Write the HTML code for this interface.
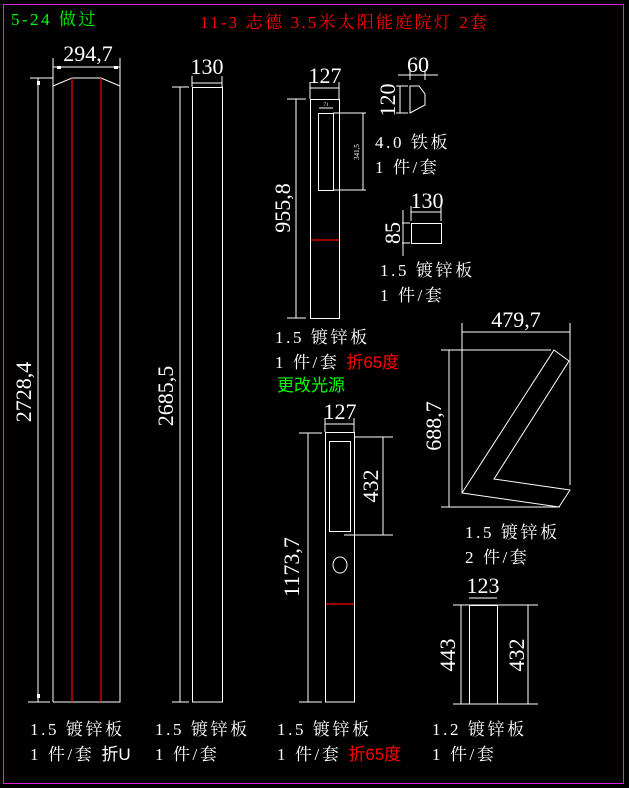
<!DOCTYPE html>
<html><head><meta charset="utf-8"><style>
html,body{margin:0;padding:0;background:#000;}
svg{display:block}
.w{stroke:#fff;stroke-width:1;fill:none}
.r{stroke:#f00;stroke-width:1.2;fill:none}
text{font-family:"Liberation Serif","Noto Serif CJK SC","Noto Sans CJK SC",serif;fill:#fff}
.d{font-size:22px}
.l{font-size:17px;letter-spacing:2.6px}
.s{font-family:"Liberation Sans","Noto Sans CJK SC",sans-serif;letter-spacing:0}
</style></head><body>
<svg width="629" height="788" viewBox="0 0 629 788" xmlns="http://www.w3.org/2000/svg">
<rect x="3.5" y="4.5" width="620" height="779" fill="none" stroke="#e020e0" stroke-width="1"/>
<text x="11" y="25" style="font-size:17px;fill:#0f0;letter-spacing:2.5px">5-24 做过</text>
<text x="200" y="28" style="font-size:17px;fill:#f00;letter-spacing:2.2px">11-3 志德 3.5米太阳能庭院灯 2套</text>

<!-- Part 1 -->
<polyline class="w" points="53,702 53,86 72,78 101,78 120,86 120,702 53,702"/>
<line class="r" x1="72" y1="78" x2="72" y2="702"/>
<line class="r" x1="101" y1="78" x2="101" y2="702"/>
<line class="w" x1="53" y1="67" x2="120" y2="67"/>
<line class="w" x1="53" y1="58" x2="53" y2="86"/>
<line class="w" x1="120" y1="58" x2="120" y2="86"/>
<rect x="57" y="66" width="4" height="3" fill="#fff"/><rect x="114" y="66" width="4" height="3" fill="#fff"/>
<text x="88" y="61" class="d" text-anchor="middle">294,7</text>
<line class="w" x1="30" y1="78" x2="53" y2="78"/>
<line class="w" x1="28" y1="702" x2="50" y2="702"/>
<line class="w" x1="38" y1="78" x2="38" y2="702"/>
<rect x="37" y="81" width="3" height="4" fill="#fff"/><rect x="37" y="694" width="3" height="4" fill="#fff"/>
<text class="d" transform="translate(31,392) rotate(-90)" text-anchor="middle">2728,4</text>

<!-- Part 2 -->
<rect class="w" x="192.5" y="87.5" width="30" height="614.5"/>
<line class="w" x1="192" y1="83" x2="222" y2="83"/>
<line class="w" x1="192" y1="76" x2="192" y2="87"/><line class="w" x1="222" y1="76" x2="222" y2="87"/>
<text x="207" y="74" class="d" text-anchor="middle">130</text>
<line class="w" x1="172" y1="87" x2="189" y2="87"/>
<line class="w" x1="180" y1="87" x2="180" y2="702"/>
<line class="w" x1="172" y1="702" x2="189" y2="702"/>
<text class="d" transform="translate(173,396) rotate(-90)" text-anchor="middle">2685,5</text>

<!-- Part 3 -->
<rect class="w" x="310.5" y="99.5" width="29" height="219"/>
<rect class="w" x="318.5" y="113.5" width="15" height="77"/>
<line class="r" x1="311" y1="240" x2="339" y2="240"/>
<line class="w" x1="310" y1="88" x2="339" y2="88"/>
<line class="w" x1="310" y1="82" x2="310" y2="99"/><line class="w" x1="339" y1="82" x2="339" y2="99"/>
<text x="325" y="83" class="d" text-anchor="middle">127</text>
<line class="w" x1="319" y1="108" x2="333" y2="108"/>
<text x="326" y="106" style="font-size:5px" text-anchor="middle">71</text>
<line class="w" x1="333" y1="113" x2="366" y2="113"/>
<line class="w" x1="333" y1="190" x2="366" y2="190"/>
<line class="w" x1="363" y1="113" x2="363" y2="190"/>
<text style="font-size:7px" transform="translate(359,152) rotate(-90)" text-anchor="middle">341,5</text>
<line class="w" x1="287" y1="99" x2="306" y2="99"/>
<line class="w" x1="287" y1="318" x2="306" y2="318"/>
<line class="w" x1="296" y1="99" x2="296" y2="318"/>
<text class="d" transform="translate(290,208) rotate(-90)" text-anchor="middle">955,8</text>

<!-- bracket 60/120 -->
<polygon class="w" points="410,86 419,86 425,94 425,105 410,113"/>
<line class="w" x1="398" y1="75" x2="438" y2="75"/>
<line class="w" x1="410" y1="70" x2="410" y2="80"/><line class="w" x1="425" y1="70" x2="425" y2="80"/>
<text x="418" y="72" class="d" text-anchor="middle">60</text>
<line class="w" x1="396" y1="86" x2="408" y2="86"/>
<line class="w" x1="396" y1="113" x2="408" y2="113"/>
<line class="w" x1="400" y1="86" x2="400" y2="113"/>
<text class="d" transform="translate(395,100) rotate(-90)" text-anchor="middle">120</text>
<text x="375" y="148" class="l">4.0 铁板</text>
<text x="375" y="173" class="l">1 件/套</text>

<!-- 130x85 -->
<rect class="w" x="411.5" y="223.5" width="30" height="20"/>
<line class="w" x1="411" y1="212" x2="441" y2="212"/>
<line class="w" x1="411" y1="206" x2="411" y2="221"/><line class="w" x1="441" y1="206" x2="441" y2="221"/>
<text x="427" y="208" class="d" text-anchor="middle">130</text>
<line class="w" x1="402" y1="223" x2="410" y2="223"/>
<line class="w" x1="402" y1="243" x2="410" y2="243"/>
<line class="w" x1="403" y1="210" x2="403" y2="256"/>
<text class="d" transform="translate(400,233) rotate(-90)" text-anchor="middle">85</text>
<text x="380" y="276" class="l">1.5 镀锌板</text>
<text x="380" y="301" class="l">1 件/套</text>

<text x="275" y="343" class="l">1.5 镀锌板</text>
<text x="275" y="368" class="l">1 件/套 <tspan class="s" style="fill:#f00">折65度</tspan></text>
<text x="277" y="391" class="s" style="font-size:17px;fill:#0f0">更改光源</text>

<!-- Part 4 -->
<rect class="w" x="325.5" y="432.5" width="29" height="269.5"/>
<rect class="w" x="329.5" y="441.5" width="21" height="90"/>
<ellipse class="w" cx="340" cy="565" rx="7" ry="8"/>
<line class="r" x1="326" y1="604" x2="354" y2="604"/>
<line class="w" x1="325" y1="424" x2="354" y2="424"/>
<line class="w" x1="325" y1="418" x2="325" y2="432"/><line class="w" x1="354" y1="418" x2="354" y2="432"/>
<text x="340" y="419" class="d" text-anchor="middle">127</text>
<line class="w" x1="355" y1="437" x2="393" y2="437"/>
<line class="w" x1="344" y1="535" x2="393" y2="535"/>
<line class="w" x1="383" y1="437" x2="383" y2="535"/>
<text class="d" transform="translate(378,486) rotate(-90)" text-anchor="middle">432</text>
<line class="w" x1="299" y1="433" x2="322" y2="433"/>
<line class="w" x1="299" y1="702" x2="322" y2="702"/>
<line class="w" x1="308" y1="433" x2="308" y2="702"/>
<text class="d" transform="translate(299,567) rotate(-90)" text-anchor="middle">1173,7</text>

<!-- Z part -->
<polygon class="w" points="554,350 569,361 494,479 570,490 559,507 462,493"/>
<line class="w" x1="441" y1="350" x2="551" y2="350"/>
<line class="w" x1="441" y1="507" x2="560" y2="507"/>
<line class="w" x1="449" y1="350" x2="449" y2="507"/>
<line class="w" x1="462" y1="323" x2="462" y2="493"/>
<line class="w" x1="570" y1="323" x2="570" y2="485"/>
<line class="w" x1="462" y1="332" x2="570" y2="332"/>
<text x="516" y="327" class="d" text-anchor="middle">479,7</text>
<text class="d" transform="translate(441,426) rotate(-90)" text-anchor="middle">688,7</text>
<text x="465" y="538" class="l">1.5 镀锌板</text>
<text x="465" y="563" class="l">2 件/套</text>

<!-- Part 123 -->
<rect class="w" x="469.5" y="605.5" width="28" height="98.5"/>
<line class="w" x1="453" y1="605" x2="538" y2="605"/>
<line class="w" x1="453" y1="704" x2="538" y2="704"/>
<line class="w" x1="469" y1="598" x2="497" y2="598"/>
<text x="483" y="593" class="d" text-anchor="middle">123</text>
<line class="w" x1="461" y1="605" x2="461" y2="704"/>
<line class="w" x1="528" y1="605" x2="528" y2="704"/>
<text class="d" transform="translate(455,655) rotate(-90)" text-anchor="middle">443</text>
<text class="d" transform="translate(524,655) rotate(-90)" text-anchor="middle">432</text>

<!-- bottom labels -->
<text x="30" y="735" class="l">1.5 镀锌板</text>
<text x="30" y="760" class="l">1 件/套 <tspan class="s">折U</tspan></text>
<text x="155" y="735" class="l">1.5 镀锌板</text>
<text x="155" y="760" class="l">1 件/套</text>
<text x="277" y="735" class="l">1.5 镀锌板</text>
<text x="277" y="760" class="l">1 件/套 <tspan class="s" style="fill:#f00">折65度</tspan></text>
<text x="432" y="735" class="l">1.2 镀锌板</text>
<text x="432" y="760" class="l">1 件/套</text>
</svg>
</body></html>
